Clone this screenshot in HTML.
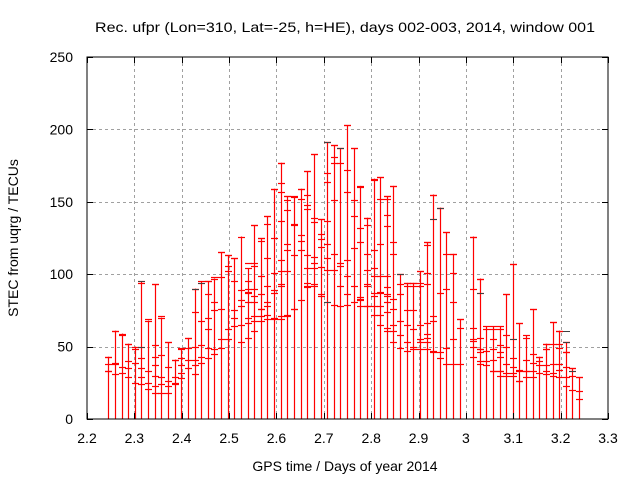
<!DOCTYPE html>
<html><head><meta charset="utf-8"><style>
html,body{margin:0;padding:0;background:#fff;}
svg{display:block;font-family:"Liberation Sans",sans-serif;}
</style></head><body>
<svg id="chart" width="640" height="480" viewBox="0 0 640 480">
<rect x="0" y="0" width="640" height="480" fill="#fff"/>
<g id="grid"></g>
<g id="marks"></g>
<rect x="87" y="57" width="521" height="362" fill="none" stroke="#000" stroke-width="1"/>
<g id="ticks"></g>
<text x="345" y="32" font-size="14" text-anchor="middle" textLength="500" lengthAdjust="spacingAndGlyphs">Rec. ufpr (Lon=310, Lat=-25, h=HE), days 002-003, 2014, window 001</text>
<text x="345" y="471" font-size="14" text-anchor="middle">GPS time / Days of year 2014</text>
<text transform="translate(18,238) rotate(-90)" font-size="14" text-anchor="middle">STEC from uqrg / TECUs</text>
</svg>
<script>
const times = [2.245,2.259,2.273,2.287,2.301,2.315,2.329,2.343,2.357,2.371,2.385,2.399,2.413,2.427,2.441,2.455,2.469,2.483,2.497,2.511,2.525,2.539,2.553,2.567,2.581,2.595,2.609,2.623,2.637,2.651,2.665,2.679,2.693,2.707,2.721,2.735,2.749,2.763,2.777,2.791,2.805,2.819,2.833,2.847,2.861,2.875,2.889,2.903,2.917,2.931,2.945,2.959,2.973,2.987,3.001,3.015,3.029,3.043,3.057,3.071,3.085,3.099,3.113,3.127,3.141,3.155,3.169,3.183,3.197,3.211,3.225,3.239];
const tops = [43,61,59,52,50,95,68,93,70,53,41,49,56,90,95,95,97,115,113,111,126,104,134,125,140,159,177,154,154,159,171,183,138,191,189,187,203,187,161,139,166,167,154,161,100,94,94,102,122,155,146,129,114,69,null,126,97,64,64,64,86,107,66,58,76,43,52,67,61,53,35,29];
const tickVals = [
[43,38,33,33],[61,39,38,31],[58,36,32],[52,40,35,29],[48,39,25],[94,50,42,35,29,24],[69,33,25,21],[93,51,43,37,30,23,18],[71,44,29,24,18],[53,36,26,23,18],
[41,29,25,24],[48,42,37,32,28],[56,49,41,35],[90,74,50,41,37,31],[94,68,51,43,39],[95,86,70,62,49,42],[98,81,75,48,45],[115,98,76,55,49],[113,106,102,62,55],[111,95,75,70,64],
[89,82,78,65,53],[108,95,90,88,87,81,70,66,56],[134,108,106,90,85,81,71,68,61],[125,123,99,86,76,76,71,68],[140,135,111,92,81,78,72,69],[159,125,101,89,87,70,69],[177,163,157,137,110,102,93,92,71,69],[154,151,144,121,117,102,72,71],[153,135,134,113,76,76],[159,152,127,123,117,82],
[171,155,148,145,113,104,94,92,91],[183,139,136,112,108,104,93,92],[138,128,124,119,105,86,85],[191,170,164,137,121,111,103,81],[189,181,177,151,114,103,79],[187,177,108,106,92,78],[203,172,157,110,99,86,79],[187,151,140,118,92,81],[160,132,122,84,83,82,78],[139,134,114,103,93,92,78,78],
[165,117,104,99,87,85,78,72],[167,152,121,99,88,87,78,72,65],[154,152,141,133,99,91,86,85,81,74,63,61],[161,122,114,83,76,65,61,53],[100,93,86,68,58,49],[94,92,75,65,53,47],[94,92,75,62,50,48],[102,94,92,65,55,53,48],[122,120,101,93,66,59,56,53,48],[155,138,71,68,47,46],
[146,87,46,42],[129,114,90,49,38],[114,101,81,55,38],[69,63,38],[],[126,90,63,55,54,50,43],[97,87,56,48,48,46,40,38],[62,47,40,37],[62,55,48,41,33,33],[62,51,46,43,33,33,30],
[86,58,50,38,32,30],[107,55,42,36,32,30],[66,34,33,26,26],[56,41,33,33,29],[76,45,39,33,29],[43,40,37,32],[52,48,48,37,33,31],[67,52,38,32,30],[61,52,49,38,34,29],[53,46,46,36,29,23],
[35,33,30,20],[29,19,14]
];
const blackTicks = [[5,95],[5,50],[14,94],[13,90],[33,191],[35,187],[33,81],[44,100],[49,138],[50,146],[56,87],[61,55],[69,61],[69,53],[70,33]];
const xTicks = [2.2,2.3,2.4,2.5,2.6,2.7,2.8,2.9,3,3.1,3.2,3.3];
const xTickLabels = ["2.2","2.3","2.4","2.5","2.6","2.7","2.8","2.9","3","3.1","3.2","3.3"];
const yTicks = [0,50,100,150,200,250];
const yTickLabels = ["0","50","100","150","200","250"];

const X0=87,X1=608,Y0=419,Y1=57;
function xs(t){return X0+(t-2.2)/(3.3-2.2)*(X1-X0);}
function ys(v){return Y0-(v/250)*(Y0-Y1);}
const NS="http://www.w3.org/2000/svg";
function mk(tag,attrs,parent){const e=document.createElementNS(NS,tag);for(const k in attrs)e.setAttribute(k,attrs[k]);parent.appendChild(e);return e;}
const grid=document.getElementById('grid'),marks=document.getElementById('marks'),ticks=document.getElementById('ticks'),svg=document.getElementById('chart');

xTicks.forEach((t,i)=>{
  const x=Math.round(xs(t))+0.5;
  if(i>0&&i<xTicks.length-1){
    const g=mk('line',{x1:x,y1:Y1,x2:x,y2:Y0,stroke:'#a0a0a0','stroke-dasharray':'3,3','stroke-width':1},grid);
    
    
  }
  const a=mk('line',{x1:x,y1:Y0,x2:x,y2:Y0-6,stroke:'#000'},ticks);
  
  
  const b=mk('line',{x1:x,y1:Y1,x2:x,y2:Y1+6,stroke:'#000'},ticks);
  
  
  const l=mk('text',{x:xs(t),y:443,'font-size':14,'text-anchor':'middle'},svg);
  l.textContent=xTickLabels[i];
  
  
});
yTicks.forEach((v,i)=>{
  const y=Math.round(ys(v))+0.5;
  if(i>0&&i<yTicks.length-1){
    const g=mk('line',{x1:X0,y1:y,x2:X1,y2:y,stroke:'#a0a0a0','stroke-dasharray':'3,3','stroke-width':1},grid);
    
    
  }
  const a=mk('line',{x1:X0,y1:y,x2:X0+6,y2:y,stroke:'#000'},ticks);
  
  
  const b=mk('line',{x1:X1,y1:y,x2:X1-6,y2:y,stroke:'#000'},ticks);
  
  
  const l=mk('text',{x:73,y:ys(v)+5,'font-size':14,'text-anchor':'end'},svg);
  l.textContent=yTickLabels[i];
  
  
});
times.forEach((t,i)=>{
  if(tops[i]==null)return;
  const x=Math.round(xs(t))+0.5;
  const bar=mk('line',{x1:x,y1:Y0,x2:x,y2:ys(tops[i]),stroke:'#ff0000','stroke-width':1.2},marks);
  
  
  const vals=[tops[i]].concat(tickVals[i]||[]);
  vals.forEach(v=>{
    const y=Math.round(ys(v))+0.5;
    const tk=mk('line',{x1:x-3.5,y1:y,x2:x+3.5,y2:y,stroke:'#ff0000','stroke-width':1.2},marks);
    
    
  });
});
blackTicks.forEach(p=>{
  const x=Math.round(xs(times[p[0]]))+0.5,y=Math.round(ys(p[1]))+0.5;
  const tk=mk('line',{x1:x-3.5,y1:y,x2:x+3.5,y2:y,stroke:'#404040','stroke-width':1},marks);
  
  
});
</script>
</body></html>
